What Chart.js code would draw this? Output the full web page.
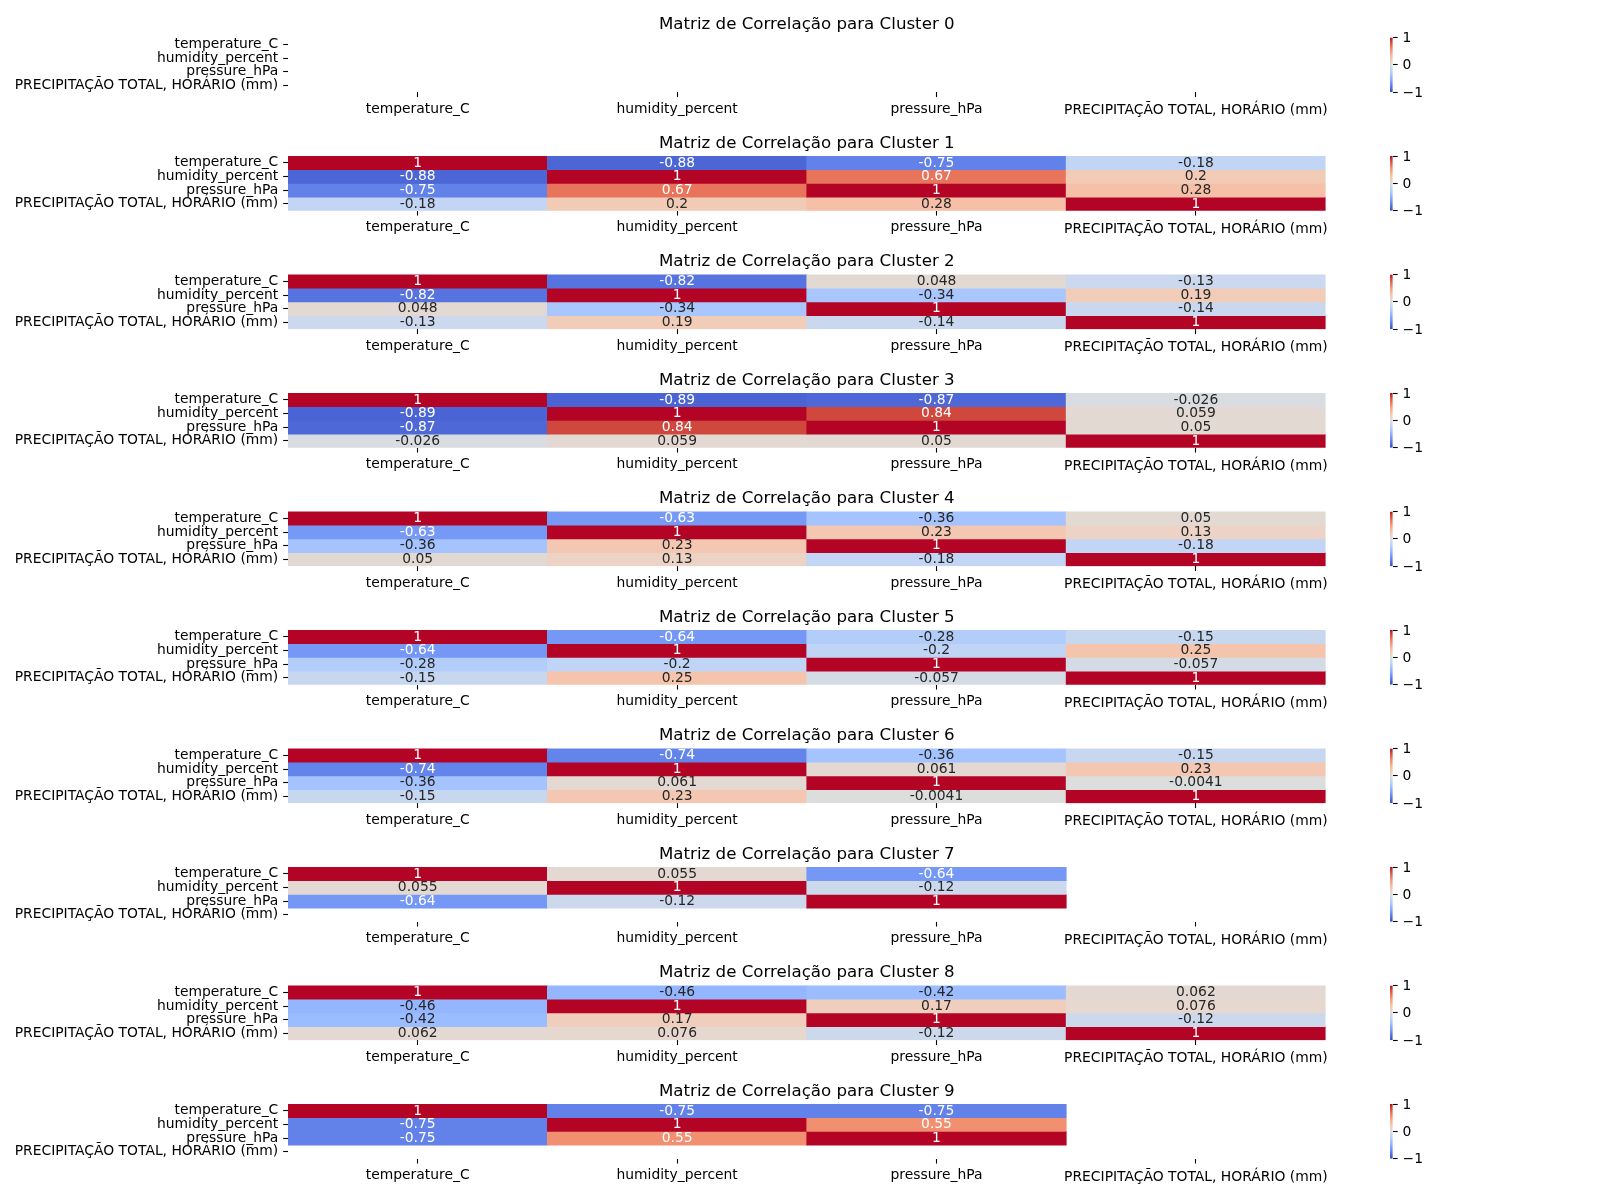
<!DOCTYPE html>
<html><head><meta charset="utf-8">
<script src="https://cdn.jsdelivr.net/npm/chart.js@4.4.1/dist/chart.umd.min.js"></script>
<style>
html,body{margin:0;padding:0;background:#fff;}
#wrap{position:relative;width:1600px;height:1200px;overflow:hidden;background:#fff;}
#wrap canvas{position:absolute;}
</style></head><body><div id="wrap"></div>
<script>
// ---------------- DATA ----------------
const variables = ['temperature_C', 'humidity_percent', 'pressure_hPa', 'PRECIPITAÇÃO TOTAL, HORÁRIO (mm)'];
const clusterIds = [0, 1, 2, 3, 4, 5, 6, 7, 8, 9];
const titlePrefix = 'Matriz de Correlação para Cluster ';
const colorbarTicks = [-1, 0, 1];

const cluster0 = [[null, null, null, null], [null, null, null, null], [null, null, null, null], [null, null, null, null]];
const cluster1 = [[1, -0.88, -0.75, -0.18], [-0.88, 1, 0.67, 0.2], [-0.75, 0.67, 1, 0.28], [-0.18, 0.2, 0.28, 1]];
const cluster2 = [[1, -0.82, 0.048, -0.13], [-0.82, 1, -0.34, 0.19], [0.048, -0.34, 1, -0.14], [-0.13, 0.19, -0.14, 1]];
const cluster3 = [[1, -0.89, -0.87, -0.026], [-0.89, 1, 0.84, 0.059], [-0.87, 0.84, 1, 0.05], [-0.026, 0.059, 0.05, 1]];
const cluster4 = [[1, -0.63, -0.36, 0.05], [-0.63, 1, 0.23, 0.13], [-0.36, 0.23, 1, -0.18], [0.05, 0.13, -0.18, 1]];
const cluster5 = [[1, -0.64, -0.28, -0.15], [-0.64, 1, -0.2, 0.25], [-0.28, -0.2, 1, -0.057], [-0.15, 0.25, -0.057, 1]];
const cluster6 = [[1, -0.74, -0.36, -0.15], [-0.74, 1, 0.061, 0.23], [-0.36, 0.061, 1, -0.0041], [-0.15, 0.23, -0.0041, 1]];
const cluster7 = [[1, 0.055, -0.64, null], [0.055, 1, -0.12, null], [-0.64, -0.12, 1, null], [null, null, null, null]];
const cluster8 = [[1, -0.46, -0.42, 0.062], [-0.46, 1, 0.17, 0.076], [-0.42, 0.17, 1, -0.12], [0.062, 0.076, -0.12, 1]];
const cluster9 = [[1, -0.75, -0.75, null], [-0.75, 1, 0.55, null], [-0.75, 0.55, 1, null], [null, null, null, null]];
const clusters = [cluster0, cluster1, cluster2, cluster3, cluster4, cluster5, cluster6, cluster7, cluster8, cluster9];

// ---------------- STYLE / LAYOUT ----------------
const CW = [
[0.2298057,0.298717966,0.753683153],[0.26623388,0.353094838,0.801466763],[0.30386891,0.406535296,0.84495867],
[0.342804478,0.458757618,0.883725899],[0.38301334,0.50941904,0.917387822],[0.424369608,0.558148092,0.945619588],
[0.46666708,0.604562568,0.968154911],[0.509635204,0.648280772,0.98478814],[0.552953156,0.688929332,0.995375608],
[0.596262162,0.726149107,0.999836203],[0.639176211,0.759599947,0.998151185],[0.681291281,0.788964712,0.990363227],
[0.722193294,0.813952739,0.976574709],[0.761464949,0.834302879,0.956945269],[0.798691636,0.849786142,0.931688648],
[0.833466556,0.860207984,0.901068838],[0.865395197,0.86541021,0.865395561],[0.897787179,0.848937047,0.820880546],
[0.924127593,0.827384882,0.774508472],[0.944468518,0.800927443,0.726736146],[0.958852946,0.769767752,0.678007945],
[0.96732803,0.734132809,0.628751763],[0.969954137,0.694266682,0.579375448],[0.966811177,0.650421156,0.530263762],
[0.958003065,0.602842431,0.481775914],[0.943660866,0.551750968,0.434243684],[0.923944917,0.49730856,0.387970225],
[0.89904617,0.439559467,0.343229596],[0.869186849,0.378313092,0.300267182],[0.834620542,0.312874446,0.259301199],
[0.795631745,0.24128379,0.220525627],[0.752534934,0.157246067,0.184115123],[0.705673158,0.01555616,0.150232812]];

function cwAt(t) {
  const pos = Math.max(0, Math.min(1, t)) * 32;
  const k = Math.min(31, Math.floor(pos));
  const f = pos - k;
  return [0, 1, 2].map(c => CW[k][c] + (CW[k + 1][c] - CW[k][c]) * f);
}
function coolwarm(v) {
  let idx = Math.floor((v + 1) / 2 * 256);
  idx = Math.max(0, Math.min(255, idx));
  return cwAt(idx / 255);
}
function css(rgb) { return 'rgb(' + rgb.map(c => Math.round(c * 255)).join(',') + ')'; }
function luminance(rgb) {
  const c = rgb.map(v => v <= 0.03928 ? v / 12.92 : Math.pow((v + 0.055) / 1.055, 2.4));
  return 0.2126 * c[0] + 0.7152 * c[1] + 0.0722 * c[2];
}
function fmt2g(v) { return String(Number(v.toPrecision(2))); }

const FONT = 'DejaVu Sans';
const FS = 13.89, TFS = 16.67;
const TICKLEN = 4.86, TICKW = 1.1;
const AX_TOP0 = 37.5, AX_STEP = 118.5, AX_H = 54.7;
const AX_LEFT = 288, AX_RIGHT = 1325.6;
const CB_LEFT = 1390, CB_RIGHT = 1392.8;

Chart.defaults.font.family = FONT;
Chart.defaults.font.size = FS;
Chart.defaults.color = '#000';

const wrap = document.getElementById('wrap');
function addCanvas(left, top, w, h) {
  const c = document.createElement('canvas');
  c.width = w; c.height = h;
  c.style.left = left + 'px'; c.style.top = top + 'px';
  c.style.width = w + 'px'; c.style.height = h + 'px';
  wrap.appendChild(c);
  return c;
}

const heatPlugin = {
  id: 'heatText',
  afterDatasetsDraw(chart) {
    const m = chart.options.plugins.heatText.matrix;
    const ctx = chart.ctx;
    ctx.save();
    ctx.font = FS + 'px "' + FONT + '"';
    ctx.textAlign = 'center';
    ctx.textBaseline = 'alphabetic';
    chart.data.datasets.forEach((ds, r) => {
      const meta = chart.getDatasetMeta(r);
      meta.data.forEach((el, j) => {
        const v = m[r][j];
        if (v === null || v === undefined) return;
        const p = el.getProps(['x', 'y', 'base'], true);
        const cy = (p.y + p.base) / 2;
        ctx.fillStyle = luminance(coolwarm(v)) > 0.408 ? '#262626' : '#ffffff';
        ctx.fillText(fmt2g(v), p.x, cy + 3.8);
      });
    });
    ctx.restore();
  },
  afterDraw(chart) {
    const t = chart.options.plugins.heatText.title;
    const a = chart.chartArea;
    const ctx = chart.ctx;
    ctx.save();
    ctx.font = TFS + 'px "' + FONT + '"';
    ctx.fillStyle = '#000';
    ctx.textAlign = 'center';
    ctx.textBaseline = 'alphabetic';
    ctx.fillText(t, (a.left + a.right) / 2, a.top - 8.33);
    ctx.restore();
  }
};

function makeHeatmap(i) {
  const m = clusters[i];
  const T = AX_TOP0 + AX_STEP * i;
  const cW = 1340, cH = 132;
  const cTop = Math.floor(T) - 42;
  const padTop = T - cTop;
  const xH = 30;
  const padBottom = cH - padTop - AX_H - xH;
  const canvas = addCanvas(0, cTop, cW, cH);
  const datasets = variables.map((rowName, r) => ({
    label: rowName,
    data: m[r].map(v => v === null ? null : [r, r + 1]),
    backgroundColor: m[r].map(v => v === null ? 'rgba(0,0,0,0)' : css(coolwarm(v))),
    borderWidth: 0,
    borderSkipped: false,
    barPercentage: 1,
    categoryPercentage: 1,
    grouped: false,
    inflateAmount: 0.4
  }));
  new Chart(canvas, {
    type: 'bar',
    data: { labels: variables, datasets },
    plugins: [heatPlugin],
    options: {
      responsive: false, maintainAspectRatio: false, animation: false, devicePixelRatio: 1, events: [],
      layout: { padding: { left: 0, right: cW - AX_RIGHT, top: padTop, bottom: padBottom } },
      plugins: {
        legend: { display: false }, tooltip: { enabled: false }, title: { display: false },
        heatText: { matrix: m, title: titlePrefix + clusterIds[i] }
      },
      scales: {
        x: {
          type: 'category', position: 'bottom', offset: true,
          grid: { offset: false, drawOnChartArea: false, drawTicks: true, tickLength: TICKLEN, tickWidth: TICKW, tickColor: '#000' },
          border: { display: false },
          ticks: {
            autoSkip: false, maxRotation: 0, minRotation: 0, padding: 3.6, color: '#000',
            font: (ctx) => ({ family: FONT, size: FS, lineHeight: ctx.index === 3 ? 1.445 : 1.2 })
          },
          afterFit: (s) => { s.height = xH; }
        },
        y: {
          type: 'linear', position: 'left', min: 0, max: variables.length, reverse: true,
          afterBuildTicks: (s) => { s.ticks = variables.map((_, r) => ({ value: r + 0.5 })); },
          grid: { drawOnChartArea: false, drawTicks: true, tickLength: TICKLEN, tickWidth: TICKW, tickColor: '#000' },
          border: { display: false },
          ticks: {
            autoSkip: false, padding: TICKLEN, color: '#000', font: { family: FONT, size: FS },
            callback: (val, idx) => variables[idx]
          },
          afterFit: (s) => { s.width = AX_LEFT; }
        }
      }
    }
  });
}

function makeColorbar(i) {
  const T = AX_TOP0 + AX_STEP * i;
  const cLeft = 1340, cW = 110, cH = 90;
  const cTop = Math.floor(T) - 16;
  const padTop = T - cTop;
  const axW = 45;
  const canvas = addCanvas(cLeft, cTop, cW, cH);
  new Chart(canvas, {
    type: 'bar',
    data: {
      labels: [''],
      datasets: [{
        data: [[colorbarTicks[0], colorbarTicks[colorbarTicks.length - 1]]],
        backgroundColor: (ctx) => {
          const ch = ctx.chart, a = ch.chartArea;
          if (!a) return css(coolwarm(0));
          const g = ch.ctx.createLinearGradient(0, a.bottom, 0, a.top);
          for (let k = 0; k <= 64; k++) g.addColorStop(k / 64, css(cwAt(k / 64)));
          return g;
        },
        borderWidth: 0, borderSkipped: false, barPercentage: 1, categoryPercentage: 1, inflateAmount: 0
      }]
    },
    options: {
      responsive: false, maintainAspectRatio: false, animation: false, devicePixelRatio: 1, events: [],
      layout: { padding: { left: CB_LEFT - cLeft, right: cW - (CB_LEFT - cLeft) - (CB_RIGHT - CB_LEFT) - axW, top: padTop, bottom: cH - padTop - AX_H } },
      plugins: { legend: { display: false }, tooltip: { enabled: false }, title: { display: false } },
      scales: {
        x: { type: 'category', display: false, offset: true },
        y: {
          type: 'linear', position: 'right', min: -1, max: 1,
          afterBuildTicks: (s) => { s.ticks = colorbarTicks.map(v => ({ value: v })); },
          grid: { drawOnChartArea: false, drawTicks: true, tickLength: TICKLEN, tickWidth: TICKW, tickColor: '#000' },
          border: { display: false },
          ticks: {
            padding: TICKLEN, labelOffset: 1, color: '#000', font: { family: FONT, size: FS },
            callback: (v) => (v < 0 ? '\u2212' : '') + Math.abs(v)
          },
          afterFit: (s) => { s.width = axW; }
        }
      }
    }
  });
}

clusterIds.forEach((id, i) => { makeHeatmap(i); makeColorbar(i); });
</script>
</body></html>
